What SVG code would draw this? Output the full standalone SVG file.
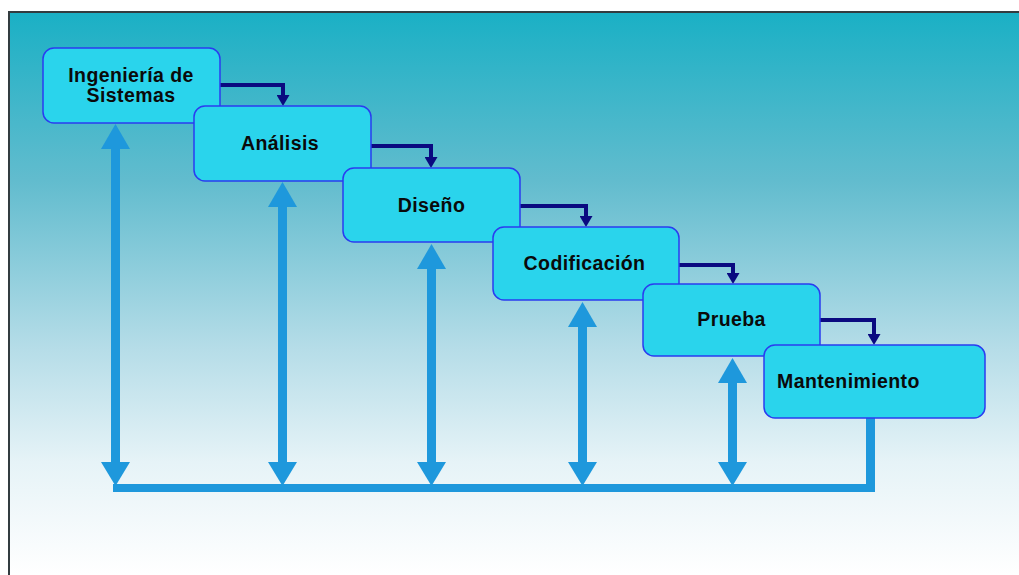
<svg xmlns="http://www.w3.org/2000/svg" width="1019" height="575" viewBox="0 0 1019 575">
<defs>
<linearGradient id="bg" x1="0" y1="0" x2="0" y2="1">
<stop offset="0" stop-color="#1ab0c5"/>
<stop offset="0.3" stop-color="#62bcce"/>
<stop offset="0.6" stop-color="#b6dde8"/>
<stop offset="0.8" stop-color="#e6f3f7"/>
<stop offset="1" stop-color="#ffffff"/>
</linearGradient>
<marker id="nav" markerWidth="11" markerHeight="13" refX="0" refY="6.5" orient="auto" markerUnits="userSpaceOnUse" viewBox="0 0 11 13">
<path d="M0,0 L11,6.5 L0,13 Z" fill="#0a0a80"/>
</marker>
</defs>
<style>
.box{fill:#2ad4ec;stroke:#2a3cf0;stroke-width:1.5}
.lbl{font-family:"Liberation Sans",Arial,sans-serif;font-weight:bold;font-size:19.5px;letter-spacing:0.4px;fill:#0a0a0a}
.nav{fill:none;stroke:#0a0a80;stroke-width:4}
.lb{fill:#1e98dc}
</style>
<rect x="0" y="0" width="1019" height="575" fill="#ffffff"/>
<rect x="9" y="12" width="1010" height="563" fill="url(#bg)"/>
<path d="M9,575 L9,12 L1019,12" fill="none" stroke="#333c40" stroke-width="2"/>
<g id="connectors">
<path class="nav" d="M220,85 H283 V95" marker-end="url(#nav)"/>
<path class="nav" d="M371,146 H431 V157" marker-end="url(#nav)"/>
<path class="nav" d="M520,206 H586 V216" marker-end="url(#nav)"/>
<path class="nav" d="M679,265 H733 V273" marker-end="url(#nav)"/>
<path class="nav" d="M820,320 H874 V334" marker-end="url(#nav)"/>
<g class="lb">
<rect x="111" y="146" width="9" height="318"/>
<path d="M101,149 L115.5,124 L130,149 Z"/>
<path d="M101,462 L130,462 L115.5,486 Z"/>
<rect x="278" y="204" width="9" height="260"/>
<path d="M268,207 L282.5,182 L297,207 Z"/>
<path d="M268,462 L297,462 L282.5,486 Z"/>
<rect x="427" y="266" width="9" height="198"/>
<path d="M417,269 L431.5,244 L446,269 Z"/>
<path d="M417,462 L446,462 L431.5,486 Z"/>
<rect x="578" y="324" width="9" height="140"/>
<path d="M568,327 L582.5,302 L597,327 Z"/>
<path d="M568,462 L597,462 L582.5,486 Z"/>
<rect x="728" y="380" width="9" height="84"/>
<path d="M718,383 L732.5,358 L747,383 Z"/>
<path d="M718,462 L747,462 L732.5,486 Z"/>
<rect x="113" y="484" width="762" height="8"/>
<rect x="866" y="418" width="9" height="74"/>
</g>
</g>
<g id="n1"><rect class="box" x="43" y="48" width="177" height="75" rx="11"/><text class="lbl" x="131" y="82" text-anchor="middle">Ingeniería de</text><text class="lbl" x="131" y="102" text-anchor="middle">Sistemas</text></g>
<g id="n2"><rect class="box" x="194" y="106" width="177" height="75" rx="11"/><text class="lbl" x="280" y="150" text-anchor="middle">Análisis</text></g>
<g id="n3"><rect class="box" x="343" y="168" width="177" height="74" rx="11"/><text class="lbl" x="431.5" y="212" text-anchor="middle">Diseño</text></g>
<g id="n4"><rect class="box" x="493" y="227" width="186" height="73" rx="11"/><text class="lbl" x="584.5" y="270" text-anchor="middle">Codificación</text></g>
<g id="n5"><rect class="box" x="643" y="284" width="177" height="72" rx="11"/><text class="lbl" x="731.5" y="326" text-anchor="middle">Prueba</text></g>
<g id="n6"><rect class="box" x="764" y="345" width="221" height="73" rx="11"/><text class="lbl" x="777" y="388">Mantenimiento</text></g>
</svg>
